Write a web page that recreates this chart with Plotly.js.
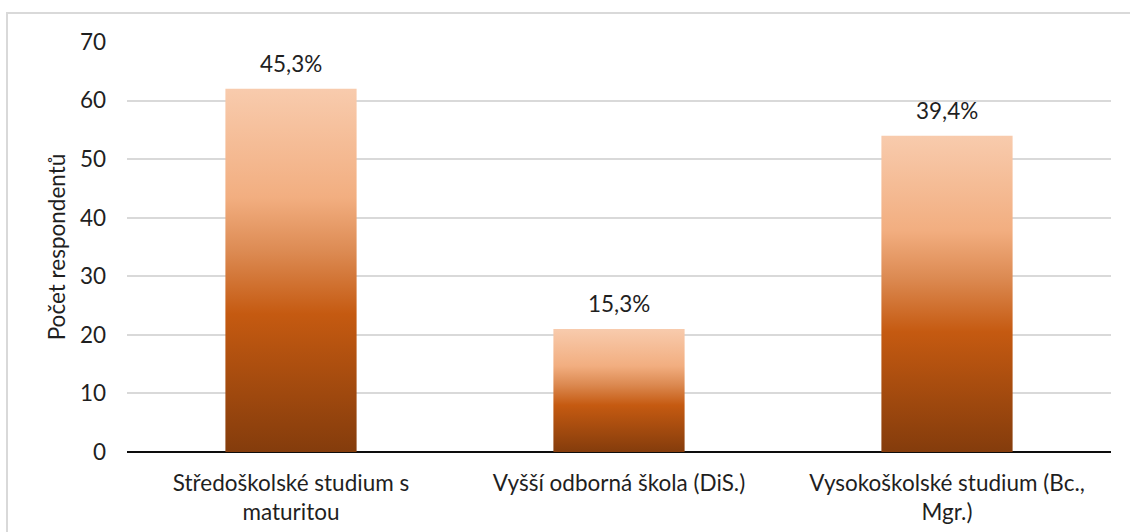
<!DOCTYPE html>
<html>
<head>
<meta charset="utf-8">
<script src="https://cdn.plot.ly/plotly-3.0.1.min.js"></script>
<style>
  html, body { margin: 0; padding: 0; background: #ffffff; }
  #wrap { position: relative; width: 1130px; height: 532px; overflow: hidden; }
  #chart { width: 1130px; height: 532px; }
  #frame { position: absolute; left: 6px; top: 12px; width: 1140px; height: 540px;
           border: 2px solid #d9d9d9; pointer-events: none; box-sizing: border-box; }
</style>
</head>
<body>
<div id="wrap">
  <div id="chart"></div>
  <div id="frame"></div>
</div>
<script>
// Data
const categories = ["Středoškolské studium s maturitou", "Vyšší odborná škola (DiS.)", "Vysokoškolské studium (Bc., Mgr.)"];
const tickLabels = ["Středoškolské studium s<br>maturitou", "Vyšší odborná škola (DiS.)", "Vysokoškolské studium (Bc.,<br>Mgr.)"];
const counts = [62, 21, 54];
const percentLabels = ["45,3%", "15,3%", "39,4%"];
const yTicks = [0, 10, 20, 30, 40, 50, 60, 70];

const FONT = "Lato, 'Open Sans', sans-serif";
const TXT = "#1f1f1f";
const FS = 22.5;

const trace = {
  type: "bar",
  x: categories,
  y: counts,
  marker: { color: "#c55a11", line: { width: 0 } },
  hoverinfo: "skip"
};

const annotations = categories.map((c, i) => ({
  x: c, y: counts[i], xref: "x", yref: "y",
  text: percentLabels[i], showarrow: false,
  yanchor: "bottom", yshift: 10,
  font: { family: FONT, size: FS, color: TXT }
}));

const layout = {
  width: 1130, height: 532,
  margin: { l: 127, r: 19, t: 42, b: 80 },
  paper_bgcolor: "#ffffff", plot_bgcolor: "#ffffff",
  showlegend: false,
  bargap: 0.6,
  font: { family: FONT, size: FS, color: TXT },
  xaxis: {
    type: "category",
    tickvals: categories, ticktext: tickLabels,
    showline: false, showgrid: false, zeroline: false,
    ticks: "", ticklabelstandoff: 15,
    tickfont: { family: FONT, size: FS, color: TXT },
    fixedrange: true
  },
  yaxis: {
    range: [0, 70], tickvals: yTicks,
    showgrid: true, gridcolor: "#d9d9d9", gridwidth: 2,
    zeroline: true, zerolinecolor: "#0d0d0d", zerolinewidth: 2,
    showline: false, ticks: "", ticklabelstandoff: 20,
    tickfont: { family: FONT, size: FS, color: TXT },
    title: { text: "Počet respondentů", font: { family: FONT, size: FS, color: TXT }, standoff: 8 },
    fixedrange: true
  },
  annotations: annotations
};

Plotly.newPlot("chart", [trace], layout, { displayModeBar: false, staticPlot: true }).then(gd => {
  const svg = gd.querySelector("svg.main-svg");
  const NS = "http://www.w3.org/2000/svg";
  let defs = svg.querySelector("defs");
  if (!defs) { defs = document.createElementNS(NS, "defs"); svg.insertBefore(defs, svg.firstChild); }
  const grad = document.createElementNS(NS, "linearGradient");
  grad.setAttribute("id", "barGrad");
  grad.setAttribute("x1", "0"); grad.setAttribute("y1", "0");
  grad.setAttribute("x2", "0"); grad.setAttribute("y2", "1");
  const stops = [[0, "#f8cbad"], [0.3, "#f2ae80"], [0.45, "#dc8a52"], [0.62, "#c55a11"], [1, "#843c0c"]];
  stops.forEach(([o, c]) => {
    const s = document.createElementNS(NS, "stop");
    s.setAttribute("offset", o); s.setAttribute("stop-color", c);
    grad.appendChild(s);
  });
  defs.appendChild(grad);
  gd.querySelectorAll(".bars .point path").forEach(p => { p.style.fill = "url(#barGrad)"; });
});
</script>
</body>
</html>
